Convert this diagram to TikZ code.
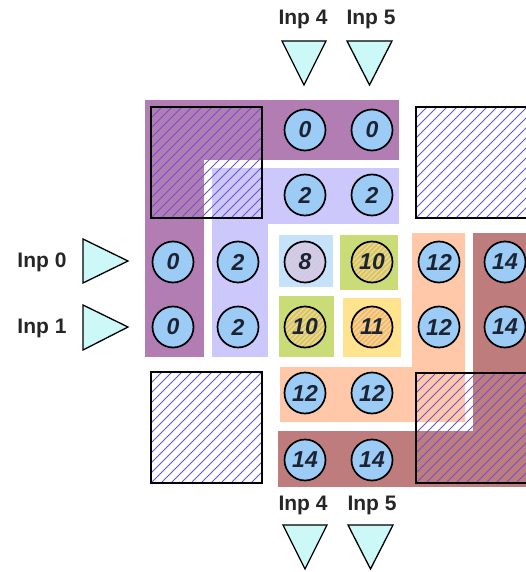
\documentclass[tikz,border=0pt]{standalone}
\usepackage{fontspec}
\newfontfamily\numfont{Liberation Sans}
\newfontfamily\labfont{Liberation Sans}

\definecolor{bandA}{HTML}{B17DB2}
\definecolor{bandB}{HTML}{CCC8FC}
\definecolor{bandC}{HTML}{FFC9A9}
\definecolor{bandD}{HTML}{BF7C7C}
\definecolor{boxBlue}{HTML}{C6E2FA}
\definecolor{boxGreen}{HTML}{CADC78}
\definecolor{boxYellow}{HTML}{FFE38E}
\definecolor{cellFill}{HTML}{9CCBF5}
\definecolor{inpFill}{HTML}{CCF8F8}
\definecolor{hatchInk}{HTML}{6A52D6}
\definecolor{numInk}{HTML}{1C2433}
\definecolor{fill8}{HTML}{C8CCEC}
\definecolor{line8}{HTML}{E4C8DC}
\definecolor{fill10}{HTML}{D6C468}
\definecolor{line10}{HTML}{EEDC92}
\definecolor{fill11}{HTML}{F2BA6A}
\definecolor{line11}{HTML}{FAD8A0}

\tikzset{
  cell/.style={circle, draw=black, line width=1.7pt, fill=cellFill,
    minimum size=41pt, inner sep=0pt, text=numInk,
    font=\numfont\fontsize{23}{23}\selectfont\bfseries\itshape},
  hcell/.style 2 args={cell, fill=#1,
    path picture={
      \foreach \k in {-50,-45,...,50}
        \draw[#2, line width=1.1pt]
          ([xshift=\k pt]path picture bounding box.center) ++(-30,30) -- ++(60,-60);
    }},
  inplabel/.style={inner sep=0pt, text=black!85,
    font=\labfont\fontsize{21}{21}\selectfont\bfseries},
  inptri/.style={draw=black, line width=1.3pt, fill=inpFill, line join=miter},
  hsq/.style={draw=black, line width=1.8pt},
}

% diagonal hatching inside a square given by its corners
\newcommand{\hatchsq}[4]{%
  \begin{scope}
    \clip (#1,#2) rectangle (#3,#4);
    \foreach \k in {-140,-130,...,140}
      \draw[hatchInk, line width=0.8pt] (#1+\k,#4) -- (#1+\k+140,#4-140);
  \end{scope}
  \draw[hsq] (#1,#2) rectangle (#3,#4);
}

\begin{document}
\begin{tikzpicture}[x=1pt,y=-1pt]
\useasboundingbox (0,0) rectangle (526,572);

% L-shaped bands
\fill[bandA] (145,100) rectangle (399,160);
\fill[bandA] (145,100) rectangle (204,357);
\fill[bandB] (212,168) rectangle (399,224);
\fill[bandB] (212,168) rectangle (268,357);
\fill[bandC] (412,233) rectangle (465,422);
\fill[bandC] (280,367) rectangle (465,422);
\fill[bandD] (473,233) rectangle (530,487);
\fill[bandD] (278,431) rectangle (530,487);

% small coloured tiles in the centre
\fill[boxBlue]   (279,235) rectangle (333,287);
\fill[boxGreen]  (340,235) rectangle (398,290);
\fill[boxGreen]  (279,296) rectangle (334,357);
\fill[boxYellow] (343,298) rectangle (401,357);

% hatched corner squares
\hatchsq{151}{107}{262}{218}
\hatchsq{416}{107}{540}{218}
\hatchsq{151}{372}{262}{483}
\hatchsq{416}{373}{540}{483}

% cells
\node[cell] (t0a) at (305,130) {0};
\node[cell] (t0b) at (372,130) {0};
\node[cell] (t2a) at (305,195) {2};
\node[cell] (t2b) at (372,195) {2};

\node[cell] (r0a) at (173,262) {0};
\node[cell] (r2a) at (238,262) {2};
\node[hcell={fill8}{line8}] (r8) at (305,262) {8};
\node[hcell={fill10}{line10}] (r10a) at (372,262) {10};
\node[cell] (r12a) at (439,262) {12};
\node[cell] (r14a) at (505,262) {14};

\node[cell] (r0b) at (173,327) {0};
\node[cell] (r2b) at (238,327) {2};
\node[hcell={fill10}{line10}] (r10b) at (305,327) {10};
\node[hcell={fill11}{line11}] (r11) at (372,327) {11};
\node[cell] (r12b) at (439,327) {12};
\node[cell] (r14b) at (505,327) {14};

\node[cell] (b12a) at (305,393) {12};
\node[cell] (b12b) at (372,393) {12};
\node[cell] (b14a) at (305,460) {14};
\node[cell] (b14b) at (372,460) {14};

% inputs on top
\node[inplabel] (lt4) at (303,19) {Inp 4};
\node[inplabel] (lt5) at (371,19) {Inp 5};
\draw[inptri] (282,41) -- (326,41) -- (304,85) -- cycle;
\draw[inptri] (347,41) -- (392,41) -- (369.5,85) -- cycle;

% inputs at the bottom
\node[inplabel] (lb4) at (303,505) {Inp 4};
\node[inplabel] (lb5) at (372,505) {Inp 5};
\draw[inptri] (283,525) -- (327,525) -- (305,569) -- cycle;
\draw[inptri] (348,525) -- (393,525) -- (370.5,569) -- cycle;

% inputs on the left
\node[inplabel] (ll0) at (42,262) {Inp 0};
\node[inplabel] (ll1) at (42,328) {Inp 1};
\draw[inptri] (83,239) -- (128,261) -- (83,283) -- cycle;
\draw[inptri] (83,305) -- (128,327) -- (83,350) -- cycle;
\end{tikzpicture}
\end{document}
